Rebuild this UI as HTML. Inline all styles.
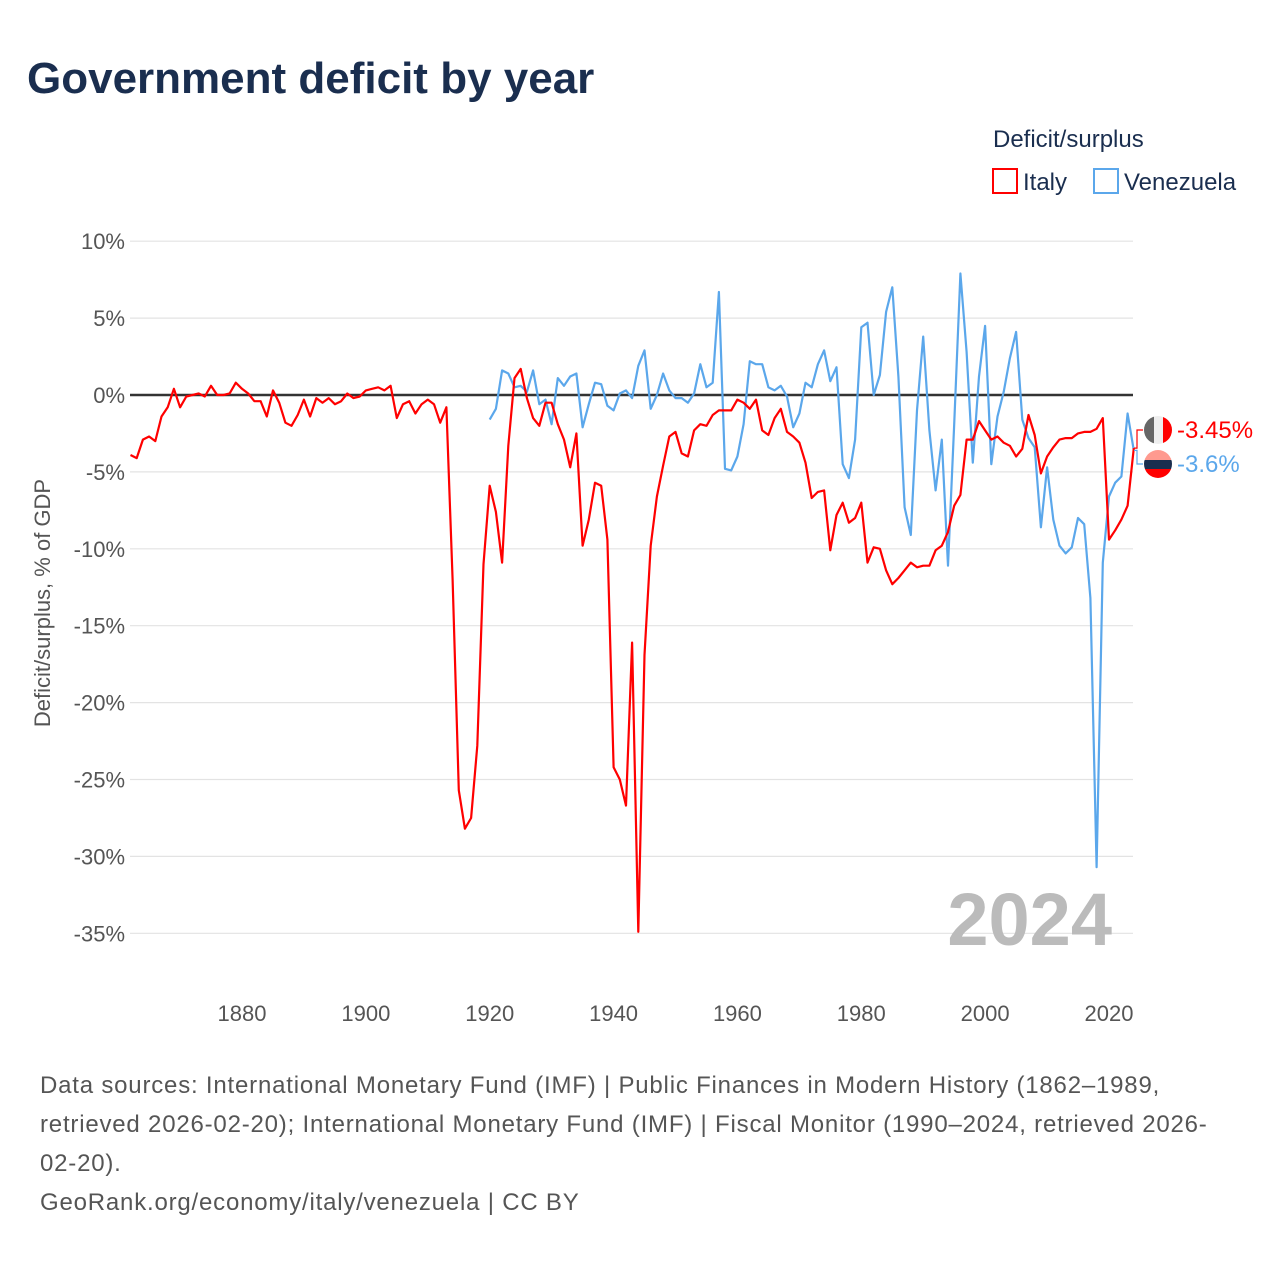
<!DOCTYPE html>
<html><head><meta charset="utf-8"><style>
body{margin:0;background:#fff;font-family:"Liberation Sans",sans-serif;}
svg text{font-family:"Liberation Sans",sans-serif;}
</style></head><body>
<svg id="c" width="1280" height="1280" xmlns="http://www.w3.org/2000/svg">
<rect width="1280" height="1280" fill="#fff"/>
<text x="27" y="93" font-size="44" font-weight="bold" fill="#1a2e4f">Government deficit by year</text>
<text x="993" y="147" font-size="24" fill="#1a2e4f">Deficit/surplus</text>
<g><rect x="993" y="169" width="24" height="24" fill="none" stroke="#f00" stroke-width="2"/><text x="1023" y="190" font-size="24" fill="#1a2e4f">Italy</text></g>
<g><rect x="1094" y="169" width="24" height="24" fill="none" stroke="#5ba7eb" stroke-width="2"/><text x="1124" y="190" font-size="24" fill="#1a2e4f">Venezuela</text></g>
<g id="grid"></g><g id="lines"></g><g id="labels"></g>
<text x="1112" y="945" text-anchor="end" font-size="74" font-weight="bold" fill="#bbb">2024</text>
<text transform="translate(50,603) rotate(-90)" text-anchor="middle" font-size="22" fill="#555">Deficit/surplus, % of GDP</text>
<g font-size="24" fill="#555" letter-spacing="0.8">
<text x="40" y="1093">Data sources: International Monetary Fund (IMF) | Public Finances in Modern History (1862–1989,</text>
<text x="40" y="1132">retrieved 2026-02-20); International Monetary Fund (IMF) | Fiscal Monitor (1990–2024, retrieved 2026-</text>
<text x="40" y="1171">02-20).</text>
<text x="40" y="1210">GeoRank.org/economy/italy/venezuela | CC BY</text>
</g>
</svg>
<script>
const yTicks=[10,5,0,-5,-10,-15,-20,-25,-30,-35];
const xTicks=[1880,1900,1920,1940,1960,1980,2000,2020];
const italyStart=1862;
const italy=[-3.9,-4.1,-2.9,-2.7,-3.0,-1.4,-0.8,0.4,-0.8,-0.1,0,0.1,-0.1,0.6,0,0,0.1,0.8,0.4,0.1,-0.4,-0.4,-1.4,0.3,-0.5,-1.8,-2.0,-1.3,-0.3,-1.4,-0.2,-0.5,-0.2,-0.6,-0.4,0.1,-0.2,-0.1,0.3,0.4,0.5,0.3,0.6,-1.5,-0.6,-0.4,-1.2,-0.6,-0.3,-0.6,-1.8,-0.8,-12,-25.7,-28.2,-27.5,-22.8,-11,-5.9,-7.6,-10.9,-3.3,1.1,1.7,-0.2,-1.5,-2.0,-0.5,-0.5,-1.9,-2.9,-4.7,-2.5,-9.8,-8.1,-5.7,-5.9,-9.4,-24.2,-25,-26.7,-16.1,-34.9,-16.9,-9.8,-6.6,-4.6,-2.7,-2.4,-3.8,-4.0,-2.3,-1.9,-2,-1.3,-1.0,-1.0,-1.0,-0.3,-0.5,-0.9,-0.3,-2.3,-2.6,-1.5,-0.9,-2.4,-2.7,-3.1,-4.4,-6.7,-6.3,-6.2,-10.1,-7.8,-7.0,-8.3,-8.0,-7.0,-10.9,-9.9,-10,-11.4,-12.3,-11.9,-11.4,-10.9,-11.2,-11.1,-11.1,-10.1,-9.8,-8.9,-7.2,-6.5,-2.9,-2.9,-1.7,-2.3,-2.9,-2.7,-3.1,-3.3,-4.0,-3.5,-1.3,-2.6,-5.1,-4.0,-3.4,-2.9,-2.8,-2.8,-2.5,-2.4,-2.4,-2.2,-1.5,-9.4,-8.8,-8.1,-7.2,-3.45];
const venStart=1920;
const venezuela=[-1.6,-0.9,1.6,1.4,0.5,0.6,0.2,1.6,-0.6,-0.3,-1.9,1.1,0.6,1.2,1.4,-2.1,-0.6,0.8,0.7,-0.7,-1.0,0.1,0.3,-0.2,1.9,2.9,-0.9,0,1.4,0.3,-0.2,-0.2,-0.5,0.1,2.0,0.5,0.8,6.7,-4.8,-4.9,-4.0,-1.9,2.2,2.0,2.0,0.5,0.3,0.6,-0.1,-2.1,-1.2,0.8,0.5,2.0,2.9,0.9,1.8,-4.5,-5.4,-2.9,4.4,4.7,0,1.3,5.4,7.0,1.2,-7.3,-9.1,-1.0,3.8,-2.3,-6.2,-2.9,-11.1,-1.9,7.9,2.8,-4.4,1.2,4.5,-4.5,-1.4,0.2,2.4,4.1,-1.6,-2.8,-3.4,-8.6,-4.7,-8.1,-9.8,-10.3,-9.9,-8.0,-8.4,-13.2,-30.7,-10.9,-6.6,-5.7,-5.3,-1.2,-3.6];
const NS="http://www.w3.org/2000/svg";
const X=yr=>242+(yr-1880)*(1109-242)/140;
const Y=v=>395-v*15.38;
function mk(t,a,p){const e=document.createElementNS(NS,t);for(const k in a)e.setAttribute(k,a[k]);p.appendChild(e);return e;}
const grid=document.getElementById('grid'),lines=document.getElementById('lines'),labels=document.getElementById('labels');
yTicks.forEach(v=>{
 const l=mk('line',{x1:130,x2:1133,y1:Y(v),y2:Y(v),stroke:v===0?'#333':'#e3e3e3','stroke-width':v===0?2.5:1.2},grid);
 
 
 const t=mk('text',{x:125,y:Y(v)+8,'text-anchor':'end','font-size':22,fill:'#555'},grid);
 t.textContent=v+'%';
 
 
});
xTicks.forEach(yr=>{
 const t=mk('text',{x:X(yr),y:1021,'text-anchor':'middle','font-size':22,fill:'#555'},grid);
 t.textContent=yr;
 
 
});
function series(arr,start,color,name){
 const d=arr.map((v,i)=>(i?'L':'M')+X(start+i).toFixed(1)+','+Y(v).toFixed(1)).join('');
 const p=mk('path',{d:d,fill:'none',stroke:color,'stroke-width':2.2,'stroke-linejoin':'round'},lines);
 
 
}
series(venezuela,venStart,'#5ba7eb','venezuela-line');
series(italy,italyStart,'#f00','italy-line');
const iy=430,vy=464;
mk('path',{d:'M1134,'+Y(italy[italy.length-1]).toFixed(1)+'H1137V'+iy+'H1143',fill:'none',stroke:'#f00','stroke-width':1.2},labels);
mk('path',{d:'M1134,'+Y(venezuela[venezuela.length-1]).toFixed(1)+'H1137V'+vy+'H1143',fill:'none',stroke:'#5ba7eb','stroke-width':1.2},labels);
const fi=mk('g',{},labels);


mk('clipPath',{id:'ci'},fi);mk('circle',{cx:1158,cy:iy,r:14},document.getElementById('ci'));
const gi=mk('g',{'clip-path':'url(#ci)'},fi);
mk('rect',{x:1144,y:iy-14,width:10,height:28,fill:'#666'},gi);
mk('rect',{x:1154,y:iy-14,width:9,height:28,fill:'#eee'},gi);
mk('rect',{x:1163,y:iy-14,width:10,height:28,fill:'#f00'},gi);
const fv=mk('g',{},labels);


mk('clipPath',{id:'cv'},fv);mk('circle',{cx:1158,cy:vy,r:14},document.getElementById('cv'));
const gv=mk('g',{'clip-path':'url(#cv)'},fv);
mk('rect',{x:1144,y:vy-14,width:28,height:10,fill:'#ff9a8f'},gv);
mk('rect',{x:1144,y:vy-4,width:28,height:9,fill:'#1a2e4f'},gv);
mk('rect',{x:1144,y:vy+5,width:28,height:10,fill:'#f00'},gv);
const li=mk('text',{x:1177,y:iy+8,'font-size':24,fill:'#f00'},labels);
li.textContent='-3.45%';


const lv=mk('text',{x:1177,y:vy+8,'font-size':24,fill:'#5ba7eb'},labels);
lv.textContent='-3.6%';


</script>
</body></html>
